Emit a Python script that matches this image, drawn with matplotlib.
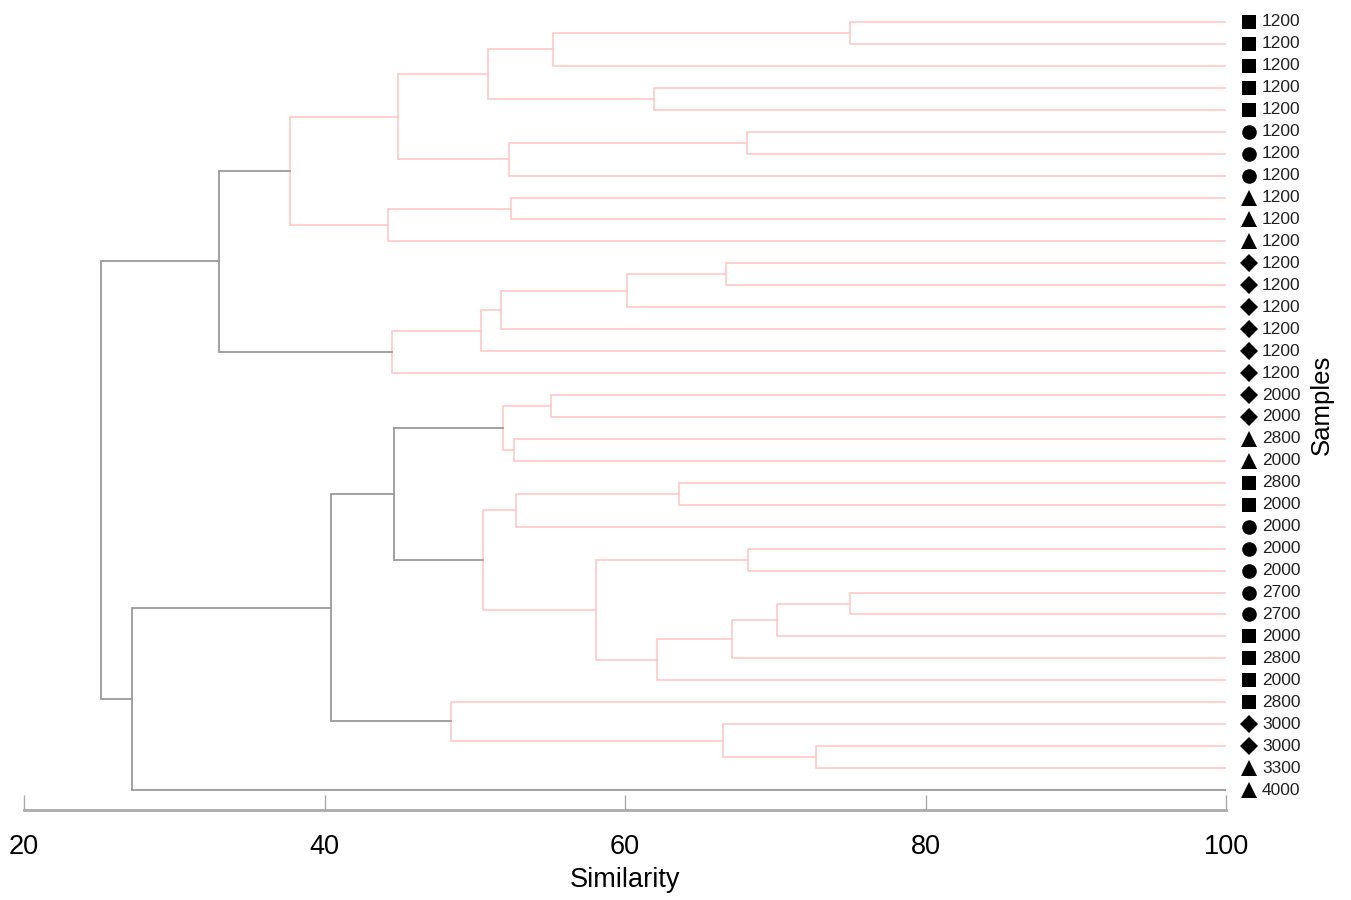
import matplotlib.pyplot as plt

plt.rcParams['font.family'] = ['Liberation Sans', 'DejaVu Sans']

# leaf labels (top to bottom)
sample_vals = ['1200'] * 17 + ['2000', '2000', '2800', '2000', '2800', '2000', '2000',
                               '2000', '2000', '2700', '2700', '2000', '2800', '2000',
                               '2800', '3000', '3000', '3300', '4000']
sample_marks = (['s'] * 5 + ['o'] * 3 + ['^'] * 3 + ['D'] * 6 + ['D'] * 2 + ['^'] * 2
                + ['s'] * 2 + ['o'] * 5 + ['s'] * 4 + ['D'] * 2 + ['^'] * 2)

# merges: (child a, child b, similarity) ; new node ids start at 36
merge_a = [0, 36, 3, 37, 5, 40, 39, 8, 43, 42, 11, 46, 47, 48, 49, 45,
           17, 19, 52, 21, 55, 24, 26, 58, 59, 60, 57, 56, 54, 33, 32, 31, 64, 68, 51]
merge_b = [1, 2, 4, 38, 6, 7, 41, 9, 10, 44, 12, 13, 14, 15, 16, 50,
           18, 20, 53, 22, 23, 25, 27, 28, 29, 30, 61, 62, 63, 34, 65, 66, 67, 35, 69]
merge_sim = [75.0, 55.2, 61.9, 50.9, 68.1, 52.3, 44.9, 52.4, 44.2, 37.7,
             66.7, 60.1, 51.75, 50.4, 44.5, 33.0,
             55.1, 52.6, 51.9, 63.6, 52.75, 68.2, 75.0, 70.1, 67.1, 62.1, 58.1,
             50.55, 44.6, 72.7, 66.5, 48.4, 40.4, 27.2, 25.1]
# links drawn in grey (significant structure), others in pink
grey_links = [51, 64, 68, 69, 70]

n = len(sample_vals)
pos_y = {i: float(i) for i in range(n)}
pos_x = {i: 100.0 for i in range(n)}

fig = plt.figure(figsize=(13.51, 9), dpi=100)
ax = fig.add_axes([24 / 1351, 0.1, 1202 / 1351, 0.8889])

pink = '#ffc4c4'
grey = '#9a9a9a'
for k, (a, b, s) in enumerate(zip(merge_a, merge_b, merge_sim)):
    node = n + k
    col = grey if node in grey_links else pink
    lw = 1.3 if node in grey_links else 1.1
    ya, yb = pos_y[a], pos_y[b]
    ax.plot([pos_x[a], s, s, pos_x[b]], [ya, ya, yb, yb], color=col, lw=lw,
            solid_joinstyle='miter', zorder=1 if col == pink else 2)
    pos_y[node] = (ya + yb) / 2
    pos_x[node] = s

# leaf markers and labels
msize = {'s': 10, 'o': 10.5, '^': 12, 'D': 9.5}
for i in range(n):
    ax.plot(101.5, i, marker=sample_marks[i], color='black', markersize=msize[sample_marks[i]],
            clip_on=False, markeredgewidth=0)
    ax.text(102.4, i, sample_vals[i], fontsize=12.5, color='#222222', va='center', ha='left',
            clip_on=False)

ax.set_xlim(20, 100)
ax.set_ylim(35.91, -0.547)
for sp in ['top', 'right', 'left']:
    ax.spines[sp].set_visible(False)
ax.spines['bottom'].set_color('#aaaaaa')
ax.spines['bottom'].set_linewidth(2)
ax.set_yticks([])
ax.set_xticks([20, 40, 60, 80, 100])
ax.tick_params(axis='x', direction='in', length=11, width=1, color='#aaaaaa',
               labelsize=19.5, pad=17)
ax.set_xlabel('Similarity', fontsize=19.5, labelpad=5)
fig.text(1322 / 1351, 1 - 405 / 900, 'Samples', rotation=90, fontsize=18.5,
         ha='center', va='center')

fig.savefig('out.png', dpi=100)
